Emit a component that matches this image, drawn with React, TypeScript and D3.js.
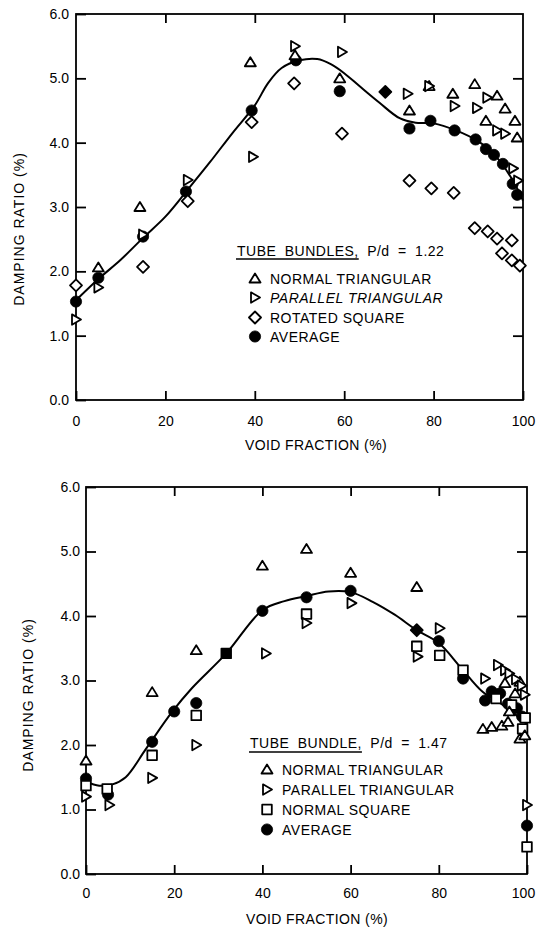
import React, { useEffect, useRef } from "react";
import * as d3 from "d3";

// ---------- DATA (void fraction %, damping ratio %) ----------
const xTicks = [0, 20, 40, 60, 80, 100];
const yTicks = [0, 1, 2, 3, 4, 5, 6];

// Top chart: P/d = 1.22
const topTitle = "TUBE BUNDLES,";
const topTitleRest = " P/d = 1.22";
const topLegend = ["NORMAL TRIANGULAR", "PARALLEL TRIANGULAR", "ROTATED SQUARE", "AVERAGE"];
const topNT = [[5, 2.06], [14.3, 3.0], [39, 5.25], [49, 5.36], [59, 5.0], [74.6, 4.5], [79, 4.88], [84.3, 4.76], [89.2, 4.91], [91.7, 4.34], [94.2, 4.73], [96, 4.53], [98.2, 4.34], [98.7, 4.08]];
const topPT = [[0, 1.25], [5, 1.75], [15, 2.57], [25, 3.42], [39.6, 3.78], [49, 5.5], [59.5, 5.41], [74.2, 4.76], [79, 4.88], [84.7, 4.57], [89.7, 4.54], [92, 4.7], [94.2, 4.19], [96, 4.14], [97.8, 3.6], [98.9, 3.41]];
const topRS = [[0, 1.78], [15, 2.07], [25, 3.09], [39.3, 4.32], [48.8, 4.92], [59.5, 4.14], [74.6, 3.41], [79.5, 3.29], [84.5, 3.22], [89.2, 2.67], [92.1, 2.62], [94.2, 2.51], [97.5, 2.48], [95.3, 2.28], [97.5, 2.17], [99.3, 2.09]];
const topAvg = [[0, 1.53], [5, 1.9], [15, 2.54], [24.6, 3.24], [39.3, 4.5], [49.2, 5.28], [59, 4.8], [74.6, 4.22], [79.3, 4.34], [84.7, 4.19], [89.4, 4.05], [91.7, 3.9], [93.5, 3.81], [95.5, 3.67], [97.7, 3.36], [98.7, 3.19]];
const topAvgDiamond = [[69.2, 4.79]];
const topCurve = [[0, 1.55], [5, 1.88], [10, 2.18], [15, 2.52], [20, 2.85], [25, 3.27], [30, 3.7], [35, 4.15], [40, 4.58], [43, 4.93], [46, 5.16], [50, 5.28], [54, 5.3], [57, 5.22], [60, 5.08], [63.4, 4.88], [67.9, 4.62], [72.4, 4.38], [76, 4.31], [80, 4.3], [85, 4.19], [90, 4.02], [93, 3.86], [97.5, 3.44], [100, 3.1]];

// Bottom chart: P/d = 1.47
const botTitle = "TUBE BUNDLE,";
const botTitleRest = " P/d = 1.47";
const botLegend = ["NORMAL TRIANGULAR", "PARALLEL TRIANGULAR", "NORMAL SQUARE", "AVERAGE"];
const botNT = [[0, 1.76], [15, 2.82], [25, 3.47], [40, 4.78], [50, 5.04], [60, 4.67], [75, 4.45], [90, 2.25], [92, 2.28], [94.3, 2.3], [95, 2.96], [95.7, 2.36], [96, 2.52], [97.3, 2.8], [98.4, 2.98], [98.4, 2.1], [99.5, 2.15]];
const botPT = [[0, 1.2], [5.3, 1.07], [15, 1.49], [25, 2.0], [40.8, 3.42], [50, 3.89], [60.2, 4.2], [75.2, 3.37], [80.2, 3.81], [90.5, 3.03], [93.4, 3.24], [95, 3.16], [96, 3.11], [97.5, 3.02], [98.8, 2.92], [99.5, 2.78], [100, 1.07]];
const botNS = [[0, 1.37], [4.8, 1.32], [15, 1.84], [25, 2.46], [50, 4.03], [75, 3.53], [80.2, 3.39], [85.5, 3.16], [93, 2.72], [96.5, 2.62], [99, 2.25], [99.6, 2.42], [100, 0.42]];
const botAvg = [[0, 1.48], [5, 1.23], [15, 2.05], [20, 2.52], [25, 2.65], [40, 4.08], [50, 4.29], [60, 4.39], [80, 3.61], [85.5, 3.03], [90.5, 2.69], [92, 2.83], [93.9, 2.8], [95.7, 2.64], [97.7, 2.57], [98.9, 2.44], [100, 0.75]];
const botAvgSquare = [[31.8, 3.42]];
const botAvgDiamond = [[75, 3.78]];
const botCurve = [[0, 1.43], [3, 1.37], [6, 1.39], [9, 1.5], [13.6, 1.94], [19.6, 2.52], [24, 2.88], [31.8, 3.42], [40, 4.09], [45, 4.23], [50, 4.31], [55, 4.38], [60, 4.37], [65, 4.22], [70, 4.02], [75, 3.78], [80, 3.58], [85, 3.2], [90, 2.82], [95, 2.6], [100, 2.32]];

const FONT = "'Liberation Sans', Arial, sans-serif";
const SW = 1.8;

type Pt = number[];

function shapePath(kind: string, cx: number, cy: number): string {
  switch (kind) {
    case "triUp":
      return `M${cx},${cy - 5}L${cx + 5.5},${cy + 4}L${cx - 5.5},${cy + 4}Z`;
    case "triRight":
      return `M${cx - 4},${cy - 5.2}L${cx + 5},${cy}L${cx - 4},${cy + 5.2}Z`;
    case "diamond":
      return `M${cx},${cy - 6}L${cx + 6},${cy}L${cx},${cy + 6}L${cx - 6},${cy}Z`;
    case "square":
      return `M${cx - 4.8},${cy - 4.8}H${cx + 4.8}V${cy + 4.8}H${cx - 4.8}Z`;
    default:
      return "";
  }
}

function drawMarker(g: any, kind: string, cx: number, cy: number, filled: boolean) {
  if (kind === "circle") {
    g.append("circle").attr("cx", cx).attr("cy", cy).attr("r", 5.6)
      .attr("fill", "#000").attr("stroke", "#000").attr("stroke-width", 0.8);
  } else {
    g.append("path").attr("d", shapePath(kind, cx, cy))
      .attr("fill", filled ? "#000" : "#fff")
      .attr("stroke", "#000").attr("stroke-width", SW).attr("stroke-linejoin", "round");
  }
}

interface ChartCfg {
  box: { left: number; right: number; top: number; bottom: number };
  series: { data: Pt[]; kind: string; filled: boolean }[];
  avg: Pt[];
  curve: Pt[];
  rightTicks: number[];
  xPad: number;
  yPad: number;
  lastDx: number;
  yTitle: { x: number; y: number };
  xTitle: { x: number; y: number };
  legend: {
    title: string; rest: string; x: number; base: number; uline: number;
    items: string[]; kinds: string[]; italic: number[];
    textX: number; markX: number; rows: number[];
  };
}

function drawChart(svg: any, cfg: ChartCfg) {
  const { box } = cfg;
  const x = d3.scaleLinear().domain([0, 100]).range([box.left, box.right]);
  const y = d3.scaleLinear().domain([0, 6]).range([box.bottom, box.top]);
  const g = svg.append("g");

  const styleAxis = (sel: any) => {
    sel.select(".domain").remove();
    sel.selectAll(".tick line").attr("stroke", "#000").attr("stroke-width", SW);
    sel.selectAll(".tick text").attr("font-family", FONT).attr("font-size", 14).attr("fill", "#000");
  };

  const xb = g.append("g").attr("transform", `translate(0,${box.bottom})`)
    .call(d3.axisBottom(x).tickValues(xTicks).tickSize(-9).tickPadding(cfg.xPad).tickFormat(d3.format("d")))
    .call(styleAxis);
  xb.selectAll(".tick text").filter((d: number) => d === 100).attr("dx", cfg.lastDx);

  g.append("g").attr("transform", `translate(0,${box.top})`)
    .call(d3.axisTop(x).tickValues(xTicks.slice(1, -1)).tickSize(-9).tickFormat(() => ""))
    .call(styleAxis);
  g.append("g").attr("transform", `translate(${box.left},0)`)
    .call(d3.axisLeft(y).tickValues(yTicks).tickSize(-10).tickPadding(cfg.yPad).tickFormat(d3.format(".1f")))
    .call(styleAxis);
  g.append("g").attr("transform", `translate(${box.right},0)`)
    .call(d3.axisRight(y).tickValues(cfg.rightTicks).tickSize(-10).tickFormat(() => ""))
    .call(styleAxis);

  g.append("rect").attr("x", box.left).attr("y", box.top)
    .attr("width", box.right - box.left).attr("height", box.bottom - box.top)
    .attr("fill", "none").attr("stroke", "#000").attr("stroke-width", SW);

  // titles
  g.append("text").attr("transform", `translate(${cfg.yTitle.x},${cfg.yTitle.y}) rotate(-90)`)
    .attr("text-anchor", "middle").attr("font-family", FONT).attr("font-size", 14)
    .attr("letter-spacing", 1).text("DAMPING RATIO (%)");
  g.append("text").attr("x", cfg.xTitle.x).attr("y", cfg.xTitle.y)
    .attr("text-anchor", "middle").attr("font-family", FONT).attr("font-size", 14)
    .attr("letter-spacing", 0.4).text("VOID FRACTION (%)");

  // fitted curve
  const line = d3.line<Pt>().x((d) => x(d[0])).y((d) => y(d[1])).curve(d3.curveCatmullRom.alpha(0.5));
  g.append("path").attr("d", line(cfg.curve)).attr("fill", "none").attr("stroke", "#000").attr("stroke-width", 2);

  // average markers first, then open markers on top
  const mg = g.append("g");
  cfg.avg.forEach((d) => drawMarker(mg, "circle", x(d[0]), y(d[1]), true));
  cfg.series.forEach((s) => s.data.forEach((d) => drawMarker(mg, s.kind, x(d[0]), y(d[1]), s.filled)));

  // legend
  const L = cfg.legend;
  const t = g.append("text").attr("x", L.x).attr("y", L.base).attr("font-family", FONT)
    .attr("font-size", 14).attr("letter-spacing", 0.5).attr("word-spacing", 4)
    .text(L.title + L.rest);
  let ulen = 95;
  try {
    ulen = (t.node() as SVGTextElement).getSubStringLength(0, L.title.length);
  } catch (e) {}
  g.append("line").attr("x1", L.x - 1).attr("x2", L.x + ulen).attr("y1", L.uline).attr("y2", L.uline)
    .attr("stroke", "#000").attr("stroke-width", 1.5);
  L.items.forEach((lab, i) => {
    g.append("text").attr("x", L.textX).attr("y", L.rows[i]).attr("font-family", FONT)
      .attr("font-size", 14).attr("letter-spacing", 0.5)
      .attr("font-style", L.italic.includes(i) ? "italic" : "normal").text(lab);
    drawMarker(g, L.kinds[i], L.markX, L.rows[i] - 5.5, false);
  });
}

export default function App() {
  const ref = useRef<SVGSVGElement | null>(null);
  useEffect(() => {
    const svg = d3.select(ref.current);
    svg.selectAll("*").remove();
    svg.append("rect").attr("width", 536).attr("height", 930).attr("fill", "#fff");

    drawChart(svg, {
      box: { left: 76, right: 523, top: 14, bottom: 400 },
      series: [
        { data: topAvgDiamond, kind: "diamond", filled: true },
        { data: topRS, kind: "diamond", filled: false },
        { data: topNT, kind: "triUp", filled: false },
        { data: topPT, kind: "triRight", filled: false },
      ],
      avg: topAvg,
      curve: topCurve,
      rightTicks: [1, 3, 5],
      xPad: 16,
      yPad: 7,
      lastDx: 0,
      yTitle: { x: 24, y: 229 },
      xTitle: { x: 316, y: 450 },
      legend: {
        title: topTitle, rest: topTitleRest, x: 237, base: 256, uline: 259,
        items: topLegend, kinds: ["triUp", "triRight", "diamond", "circle"], italic: [1],
        textX: 270, markX: 255, rows: [284, 303, 323, 342],
      },
    });

    drawChart(svg, {
      box: { left: 86, right: 527, top: 487, bottom: 874 },
      series: [
        { data: botAvgSquare, kind: "square", filled: true },
        { data: botAvgDiamond, kind: "diamond", filled: true },
        { data: botNS, kind: "square", filled: false },
        { data: botNT, kind: "triUp", filled: false },
        { data: botPT, kind: "triRight", filled: false },
      ],
      avg: botAvg,
      curve: botCurve,
      rightTicks: [4, 5],
      xPad: 14,
      yPad: 6,
      lastDx: -4,
      yTitle: { x: 33, y: 695 },
      xTitle: { x: 317, y: 924 },
      legend: {
        title: botTitle, rest: botTitleRest, x: 250, base: 748, uline: 752,
        items: botLegend, kinds: ["triUp", "triRight", "square", "circle"], italic: [],
        textX: 282, markX: 267, rows: [775, 795, 815, 835],
      },
    });
  }, []);
  return (
    <svg ref={ref} width={536} height={930}
      style={{ position: "absolute", left: 0, top: 0, display: "block" }} />
  );
}
